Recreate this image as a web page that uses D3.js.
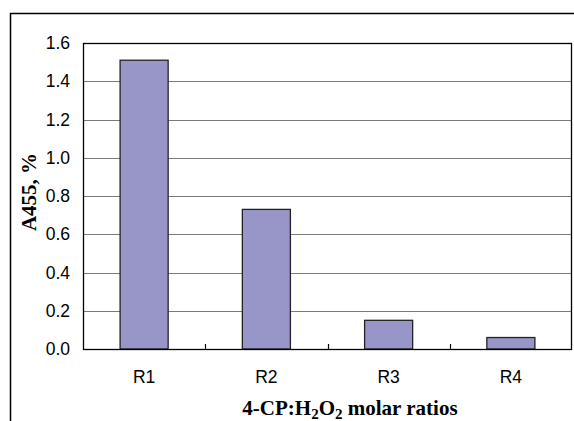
<!DOCTYPE html>
<html>
<head>
<meta charset="utf-8">
<script src="https://cdn.jsdelivr.net/npm/d3@7"></script>
<style>
  html, body { margin: 0; padding: 0; background: #fff; }
  svg { display: block; }
</style>
</head>
<body>
<svg id="chart" width="574" height="421"></svg>
<script>
// Absorbance at 455 nm for each 4-CP:H2O2 molar ratio
const categories = ["R1", "R2", "R3", "R4"];
const values = [1.51, 0.73, 0.15, 0.06];
const yTicks = [0.0, 0.2, 0.4, 0.6, 0.8, 1.0, 1.2, 1.4, 1.6];

const svg = d3.select("#chart");
const plot = { left: 83, top: 43, right: 572, bottom: 349 };

// outer frame
svg.append("rect")
  .attr("x", 10.5).attr("y", 13.5)
  .attr("width", 600).attr("height", 450)
  .attr("fill", "#fff").attr("stroke", "#000").attr("stroke-width", 1.5);

const x = d3.scaleBand().domain(categories).range([plot.left, plot.right]).padding(0);
const y = d3.scaleLinear().domain([0, 1.6]).range([plot.bottom, plot.top]);

// gridlines
svg.append("g")
  .selectAll("line")
  .data(yTicks.filter(t => t > 0 && t < 1.6))
  .join("line")
  .attr("x1", plot.left).attr("x2", plot.right)
  .attr("y1", d => Math.round(y(d)) + 0.5).attr("y2", d => Math.round(y(d)) + 0.5)
  .attr("stroke", "#7a7a7a").attr("stroke-width", 1.2);

// bars
const barW = x.bandwidth() * 0.393;
svg.append("g")
  .selectAll("rect")
  .data(categories.map((c, i) => ({ c, v: values[i] })))
  .join("rect")
  .attr("x", d => x(d.c) + (x.bandwidth() - barW) / 2)
  .attr("y", d => y(d.v))
  .attr("width", barW)
  .attr("height", d => plot.bottom - y(d.v))
  .attr("fill", "#9896c9")
  .attr("stroke", "#222")
  .attr("stroke-width", 1.3);

// plot border
svg.append("rect")
  .attr("x", plot.left + 0.5).attr("y", plot.top + 0.5)
  .attr("width", plot.right - plot.left - 1).attr("height", plot.bottom - plot.top)
  .attr("fill", "none").attr("stroke", "#000").attr("stroke-width", 1.3);

// y axis labels
const yAxis = d3.axisLeft(y).tickValues(yTicks).tickFormat(d3.format(".1f")).tickSize(0).tickPadding(13);
const gy = svg.append("g").attr("transform", `translate(${plot.left},0)`).call(yAxis);
gy.select(".domain").remove();
gy.selectAll("text")
  .attr("font-family", "Liberation Sans, Arial, sans-serif")
  .attr("font-size", 17.5).attr("fill", "#000");

// x axis: ticks at category boundaries pointing inward
const boundaries = categories.slice(1).map(c => x(c));
svg.append("g")
  .selectAll("line")
  .data(boundaries)
  .join("line")
  .attr("x1", d => Math.round(d) + 0.5).attr("x2", d => Math.round(d) + 0.5)
  .attr("y1", plot.bottom).attr("y2", plot.bottom - 5)
  .attr("stroke", "#000").attr("stroke-width", 1.2);

const xAxis = d3.axisBottom(x).tickSize(0).tickPadding(22);
const gx = svg.append("g").attr("transform", `translate(0,${plot.bottom})`).call(xAxis);
gx.select(".domain").remove();
gx.selectAll("text")
  .attr("font-family", "Liberation Sans, Arial, sans-serif")
  .attr("font-size", 17.5).attr("fill", "#000");

// axis titles
svg.append("text")
  .attr("transform", "translate(36,192) rotate(-90)")
  .attr("text-anchor", "middle")
  .attr("font-family", "Liberation Serif, Times New Roman, serif")
  .attr("font-weight", "bold").attr("font-size", 21)
  .text("A455, %");

const xt = svg.append("text")
  .attr("x", 350).attr("y", 415)
  .attr("text-anchor", "middle")
  .attr("font-family", "Liberation Serif, Times New Roman, serif")
  .attr("font-weight", "bold").attr("font-size", 21);
xt.append("tspan").text("4-CP:H");
xt.append("tspan").attr("font-size", 15).attr("dy", 4).text("2");
xt.append("tspan").attr("dy", -4).text("O");
xt.append("tspan").attr("font-size", 15).attr("dy", 4).text("2");
xt.append("tspan").attr("dy", -4).text(" molar ratios");
</script>
</body>
</html>
